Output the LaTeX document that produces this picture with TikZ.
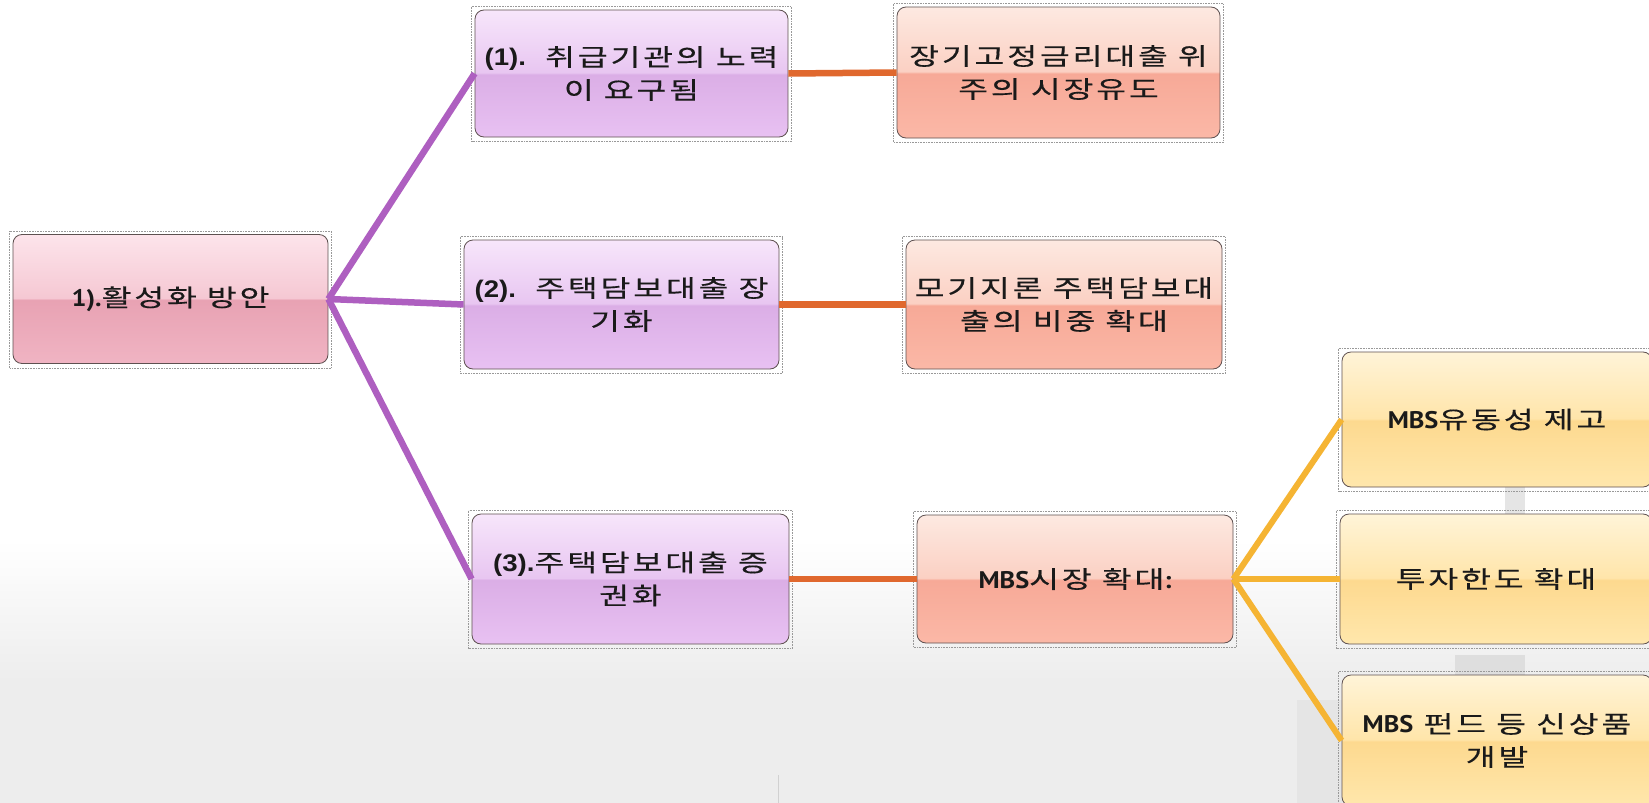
\documentclass[tikz,border=0pt]{standalone}
\usepackage{fontspec}
\setmainfont{Noto Sans CJK KR}[FakeStretch=1.35,LetterSpace=12,FakeBold=0.35]
\newfontfamily\arialb{Liberation Sans}[FakeStretch=1.15]
\newfontfamily\mbs{PT Sans}[FakeStretch=1.1]
\definecolor{txt}{HTML}{1A1A1A}
\definecolor{boxline}{HTML}{5E5050}
\definecolor{pkT}{HTML}{FDE4EB}\definecolor{pkU}{HTML}{F5C8D3}\definecolor{pkL}{HTML}{E8A2B3}\definecolor{pkB}{HTML}{F0B4C3}
\definecolor{puT}{HTML}{F7E6FB}\definecolor{puU}{HTML}{E8C6F1}\definecolor{puL}{HTML}{DBAEE6}\definecolor{puB}{HTML}{E8C1F2}
\definecolor{saT}{HTML}{FDE9E1}\definecolor{saU}{HTML}{FBD0C3}\definecolor{saL}{HTML}{F7A997}\definecolor{saB}{HTML}{FBB8A7}
\definecolor{yeT}{HTML}{FFF4D8}\definecolor{yeU}{HTML}{FFE5AA}\definecolor{yeL}{HTML}{FDD98F}\definecolor{yeB}{HTML}{FFE7AC}
\definecolor{cpurple}{HTML}{AE5FC0}
\definecolor{corange}{HTML}{E0682E}
\definecolor{cyellow}{HTML}{F5B433}
\pgfdeclareverticalshading{gpink}{100bp}{color(0bp)=(pkB); color(25bp)=(pkB); color(49.6bp)=(pkL); color(50.4bp)=(pkU); color(75bp)=(pkT); color(100bp)=(pkT)}
\pgfdeclareverticalshading{gpurple}{100bp}{color(0bp)=(puB); color(25bp)=(puB); color(49.6bp)=(puL); color(50.4bp)=(puU); color(75bp)=(puT); color(100bp)=(puT)}
\pgfdeclareverticalshading{gsalmon}{100bp}{color(0bp)=(saB); color(25bp)=(saB); color(49.6bp)=(saL); color(50.4bp)=(saU); color(75bp)=(saT); color(100bp)=(saT)}
\pgfdeclareverticalshading{gyellow}{100bp}{color(0bp)=(yeB); color(25bp)=(yeB); color(49.6bp)=(yeL); color(50.4bp)=(yeU); color(75bp)=(yeT); color(100bp)=(yeT)}
\tikzset{
  box/.style={draw=boxline, line width=0.8pt, rounded corners=9pt, inner sep=0pt,
    minimum width=315pt, minimum height=129pt, align=center, text=txt,
    font=\fontsize{24}{33}\selectfont},
  pinkbox/.style={box, shading=gpink},
  purplebox/.style={box, shading=gpurple},
  salmonbox/.style={box, shading=gsalmon},
  yellowbox/.style={box, shading=gyellow},
  dotframe/.style={draw=gray!80, densely dotted, line width=0.6pt},
  pline/.style={draw=cpurple, line width=6.5pt},
  oline/.style={draw=corange, line width=6.5pt},
  yline/.style={draw=cyellow, line width=6pt},
}
\newcommand{\lat}[1]{{\mbs\bfseries #1}}
\newcommand{\num}[1]{{\arialb\bfseries #1}}
\begin{document}
\begin{tikzpicture}[x=1pt,y=-1pt]
\useasboundingbox (0,0) rectangle (1649,803);
\fill[white] (0,0) rectangle (1649,803);
\shade[top color=white, bottom color=black!7] (0,540) rectangle (1649,680);
\fill[black!7] (0,680) rectangle (1649,803);
\fill[black!13] (1455,655) rectangle (1525,803);
\fill[black!10] (1297,700) rectangle (1342,803);
\fill[black!10] (1505,487) rectangle (1525,514);
\draw[black!18, line width=1pt] (778,775) -- (778,803);

\node[pinkbox] (root) at (170.5,299) {\lat{1).}활성화 방안};
\node[purplebox, minimum width=313pt, minimum height=127pt] (c1) at (631.5,73.5) {\num{(1).}\hspace{0.8em}취급기관의 노력\\이 요구됨};
\node[salmonbox, minimum width=323pt, minimum height=131pt] (r1) at (1058.5,72.5) {장기고정금리대출 위\\주의 시장유도};
\node[purplebox] (c2) at (621.5,304.5) {\num{(2).}\hspace{0.8em}주택담보대출 장\\기화};
\node[salmonbox, minimum width=316pt] (r2) at (1064,304.5) {모기지론 주택담보대\\출의 비중 확대};
\node[purplebox, minimum width=317pt, minimum height=130pt] (c3) at (630.5,579) {\num{(3).}주택담보대출 증\\권화};
\node[salmonbox, minimum width=316pt, minimum height=128pt] (m) at (1075,579) {\lat{MBS}시장 확대\lat{:}};
\node[yellowbox, minimum width=310pt, minimum height=135pt] (y1) at (1497,419.5) {\lat{MBS}유동성 제고};
\node[yellowbox, minimum width=312pt, minimum height=130pt] (y2) at (1496,579) {투자한도 확대};
\node[yellowbox, minimum width=310pt, minimum height=131pt] (y3) at (1497,740.5) {\lat{MBS} 펀드 등 신상품\\개발};

\foreach \n in {root,c1,r1,c2,r2,c3,m,y1,y2,y3}
  \draw[dotframe] ([shift={(-3pt,3pt)}]\n.north west) rectangle ([shift={(3pt,-4pt)}]\n.south east);

\draw[pline] (root.east) -- (c1.west);
\draw[pline] (root.east) -- (c2.west);
\draw[pline] (root.east) -- (c3.west);
\draw[oline] (c1.east) -- (r1.west);
\draw[oline] (c2.east) -- (r2.west);
\draw[oline] (c3.east) -- (m.west);
\draw[yline] (m.east) -- (y1.west);
\draw[yline] (m.east) -- (y2.west);
\draw[yline] (m.east) -- (y3.west);
\end{tikzpicture}
\end{document}
